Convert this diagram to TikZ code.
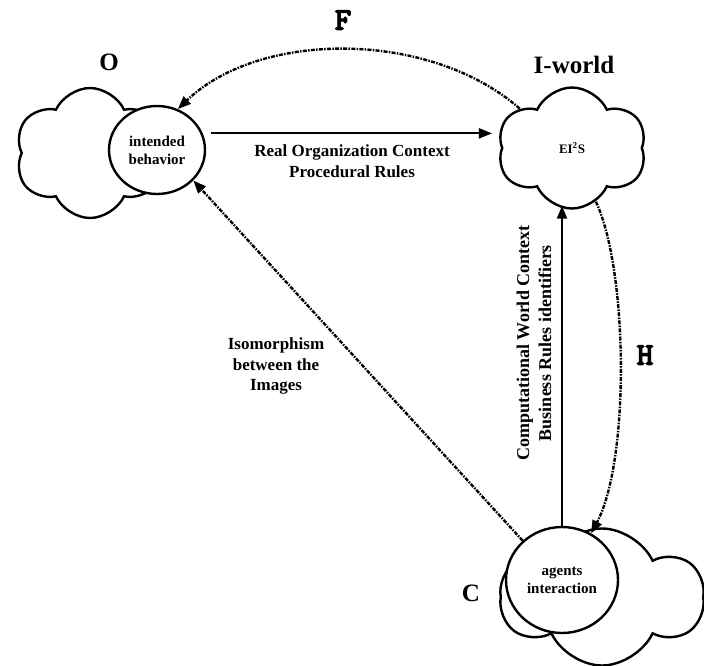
\documentclass[tikz,border=0pt]{standalone}
\usepackage{fontspec}
\setmainfont{Liberation Serif}
\newfontfamily\monof[FakeBold=3]{lmmonolt10-bold.otf}
\usetikzlibrary{shapes.symbols,shapes.geometric,arrows.meta}
\tikzset{
  cloudshape/.style={cloud, cloud puffs=6, cloud puff arc=130, cloud ignores aspect, draw, line width=2.4pt, inner sep=0pt, fill=white},
  bubble/.style={ellipse, draw, line width=2.4pt, fill=white, inner sep=0pt, align=center, font=\bfseries\fontsize{15}{18}\selectfont},
  biglbl/.style={font=\bfseries\fontsize{25}{30}\selectfont, inner sep=0pt},
  monolbl/.style={font=\monof\fontsize{32}{34}\selectfont, inner sep=0pt},
  lbl/.style={align=center, inner sep=0pt, font=\bfseries\fontsize{17}{21}\selectfont},
  solidarrow/.style={line width=2.2pt, -{Triangle[length=13pt,width=10pt]}},
  dasharrow/.style={line width=2.4pt, dash pattern=on 4pt off 1.3pt on 1.5pt off 1.3pt, -{Triangle[length=13pt,width=10pt]}}
}
\begin{document}
\begin{tikzpicture}[x=1pt,y=-1pt]
\useasboundingbox (0,0) rectangle (704,665);
% clouds
\node[cloudshape, minimum width=150pt, minimum height=130pt] (oc) at (90,153) {};
\node[cloudshape, minimum width=149pt, minimum height=121pt] (iw) at (572,148) {};
\node[cloudshape, minimum width=202pt, minimum height=137pt] (cc) at (602,597) {};
% bubbles
\node[bubble, minimum width=96pt, minimum height=88pt] (ib) at (157,150) {intended\\behavior};
\node[bubble, minimum width=112pt, minimum height=106pt] (ai) at (562,580) {agents\\interaction};
\node[font=\bfseries\fontsize{13}{15}\selectfont, inner sep=0pt] (eis) at (iw.center) {EI\textsuperscript{2}S};
% labels
\node[biglbl] (lo) at (109,62) {O};
\node[biglbl] (liw) at (574,65) {I-world};
\node[biglbl] (lc) at (471,593) {C};
\node[monolbl] (lf) at (343,20) {F};
\node[monolbl] (lh) at (645,355) {H};
\node[lbl] (lreal) at (352,161) {Real Organization Context\\Procedural Rules};
\node[lbl, font=\bfseries\fontsize{17}{20.5}\selectfont] (liso) at (276,366) {Isomorphism\\between the\\Images};
\node[lbl, rotate=90, font=\bfseries\fontsize{18}{22}\selectfont] (lcomp) at (534,343) {Computational World Context\\Business Rules identifiers};
% connectors
\draw[solidarrow] ([xshift=8pt]ib.20) -- ([xshift=-9pt]iw.west |- ib.20);
\draw[dasharrow] (iw.143) .. controls (430,30) and (260,30) .. (ib.63);
\draw[dasharrow] (iw.294) .. controls (628,270) and (630,460) .. (ai.58);
\draw[solidarrow] (ai.north) -- ([yshift=4pt]ai.north |- iw.south);
\draw[dasharrow] (ai.135) -- (ib.-40);
\end{tikzpicture}
\end{document}
